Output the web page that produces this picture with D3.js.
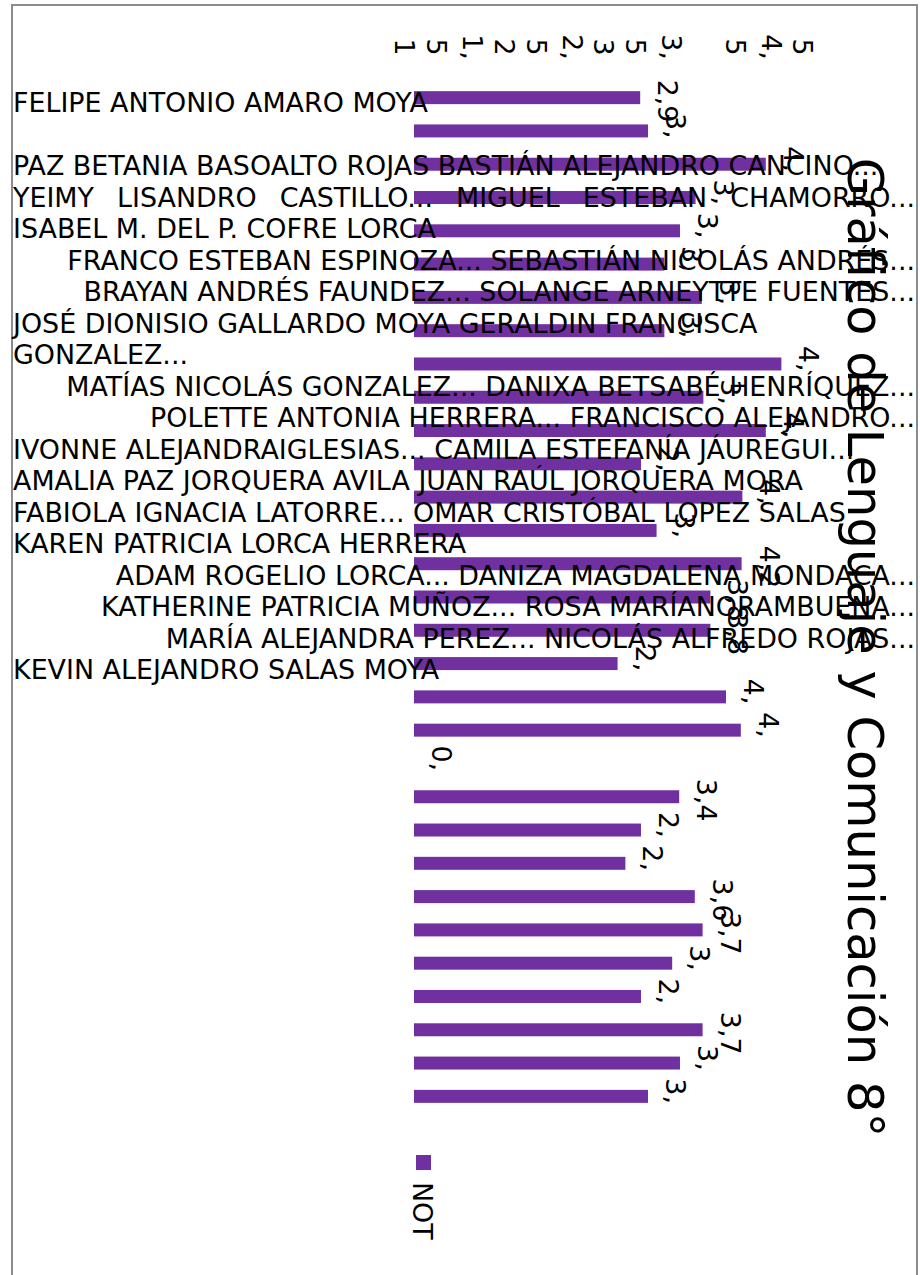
<!DOCTYPE html>
<html>
<head>
<meta charset="utf-8">
<script src="https://cdn.jsdelivr.net/npm/d3@7"></script>
<style>
  html, body { margin: 0; padding: 0; background: #fff; }
  svg { display: block; }
  text { font-family: "DejaVu Sans", sans-serif; fill: #000; }
</style>
</head>
<body>
<svg id="chart" width="920" height="1275"></svg>
<script>
// ---- data -------------------------------------------------------------
const chartTitle = "Gráfico de Lenguaje y Comunicación 8°";
const seriesName = "NOT";

const students = [
  "FELIPE ANTONIO AMARO MOYA",
  "",
  "PAZ BETANIA BASOALTO ROJAS",
  "BASTIÁN ALEJANDRO CANCINO...",
  "YEIMY LISANDRO CASTILLO...",
  "MIGUEL ESTEBAN CHAMORRO...",
  "ISABEL M. DEL P. COFRE LORCA",
  "FRANCO ESTEBAN ESPINOZA...",
  "SEBASTIÁN NICOLÁS ANDRÉS...",
  "BRAYAN ANDRÉS FAUNDEZ...",
  "SOLANGE ARNEYTTE FUENTES...",
  "JOSÉ DIONISIO GALLARDO MOYA",
  "GERALDIN FRANCISCA GONZALEZ...",
  "MATÍAS NICOLÁS GONZALEZ...",
  "DANIXA BETSABÉ HENRÍQUEZ...",
  "POLETTE ANTONIA HERRERA...",
  "FRANCISCO ALEJANDRO...",
  "IVONNE ALEJANDRAIGLESIAS...",
  "CAMILA ESTEFANÍA JÁUREGUI...",
  "AMALIA PAZ JORQUERA AVILA",
  "JUAN RAÚL JORQUERA MORA",
  "FABIOLA IGNACIA LATORRE...",
  "OMAR CRISTÓBAL LOPEZ SALAS",
  "KAREN PATRICIA LORCA HERRERA",
  "ADAM ROGELIO LORCA...",
  "DANIZA MAGDALENA MONDACA...",
  "KATHERINE PATRICIA MUÑOZ...",
  "ROSA MARÍANORAMBUENA...",
  "MARÍA ALEJANDRA PEREZ...",
  "NICOLÁS ALFREDO ROJAS...",
  "KEVIN ALEJANDRO SALAS MOYA"
];

const grades = [
  2.9, 3.0, 4.51, 3.61, 3.41, 3.21, 3.69, 3.21, 4.71, 3.71,
  4.51, 2.91, 4.21, 3.11, 4.2, 3.8, 3.8, 2.61, 4.0, 4.19,
  0, 3.4, 2.91, 2.71, 3.6, 3.7, 3.31, 2.91, 3.7, 3.41, 3.0
];

const axisTicks = [1, 1.5, 2, 2.5, 3, 3.5, 4.5, 5];

// how the category names flow into the text block on the left
const labelRows = [[0],[1],[2,3],[4,5],[6],[7,8],[9,10],[11,12],[13,14],[15,16],
                   [17,18],[19,20],[21,22],[23],[24,25],[26,27],[28,29],[30]];
const rowAlign  = ["start","start","start","justify","start","end","end","start","end","end",
                   "start","start","start","start","end","end","end","start"];

// ---- setup ------------------------------------------------------------
const svg = d3.select("#chart");
const purple = "#7030a0";
const fontSize = 26.9;

const locale = d3.formatLocale({decimal: ",", thousands: ".", grouping: [3], currency: ["$", ""]});
const fmt1 = locale.format(".1f");
const fmtTick = locale.format(".1~f");

// labels that do not fit their box break after the comma; only the first line shows
function valueLabel(v) {
  const t = Math.round(v * 10);
  if (Math.abs(v * 10 - t) < 1e-9 && t % 10 !== 0) return fmt1(v);
  return Math.floor(v) + ",";
}

const x = d3.scaleLinear().domain([0, 5]).range([414, 804]);
const xTicks = d3.scaleLinear().domain([1, 5]).range([405, 803]);
const y = d3.scaleBand()
  .domain(d3.range(students.length))
  .range([81, 1113])
  .paddingInner(0.61)
  .paddingOuter(0.305);

// frame
svg.append("rect")
  .attr("x", 12).attr("y", 5)
  .attr("width", 905).attr("height", 1300)
  .attr("fill", "none")
  .attr("stroke", "#8c8c8c")
  .attr("stroke-width", 2);

// bars
svg.append("g").selectAll("rect")
  .data(grades)
  .join("rect")
  .attr("x", x(0))
  .attr("y", (d, i) => y(i))
  .attr("width", d => x(d) - x(0))
  .attr("height", y.bandwidth())
  .attr("fill", purple);

// value axis labels (rotated, wrapped after the comma)
const tickG = svg.append("g").selectAll("text")
  .data(axisTicks)
  .join("text")
  .attr("transform", d => `translate(${xTicks(d)},47) rotate(90)`)
  .attr("text-anchor", "middle")
  .style("font-size", fontSize + "px");
tickG.each(function(d) {
  const s = fmtTick(d);
  const parts = s.includes(",") ? [s.slice(0, s.indexOf(",") + 1), s.slice(s.indexOf(",") + 1)] : [s];
  const sel = d3.select(this);
  const lh = 36;
  const start = (0.36 * fontSize) - (parts.length - 1) * lh / 2;
  parts.forEach((p, k) => {
    sel.append("tspan").attr("x", 0).attr("y", start + k * lh).text(p);
  });
});

// category names block
const measure = svg.append("text").style("font-size", fontSize + "px").attr("visibility", "hidden");
function textWidth(s) { measure.text(s); return measure.node().getComputedTextLength(); }

const blockLeft = 13, blockRight = 915, firstBaseline = 112, lineStep = 31.5;
const catG = svg.append("g").style("font-size", fontSize + "px");
let line = 0;
labelRows.forEach((row, r) => {
  const words = row.map(i => students[i]).join(" ").split(" ").filter(w => w.length);
  // greedy wrap inside the block
  const lines = [];
  let cur = [];
  words.forEach(w => {
    const trial = cur.concat([w]).join(" ");
    if (cur.length && textWidth(trial) > blockRight - blockLeft) { lines.push(cur); cur = [w]; }
    else cur.push(w);
  });
  lines.push(cur);
  lines.forEach((ws, k) => {
    const yb = firstBaseline + line * lineStep;
    const align = (rowAlign[r] === "justify" && k === lines.length - 1 && lines.length > 1) ? "start" : rowAlign[r];
    if (align === "justify" && ws.length > 1) {
      const widths = ws.map(textWidth);
      const gap = (blockRight - blockLeft - d3.sum(widths)) / (ws.length - 1);
      let cx = blockLeft;
      ws.forEach((w, j) => {
        catG.append("text").attr("x", cx).attr("y", yb).text(w);
        cx += widths[j] + gap;
      });
    } else {
      catG.append("text")
        .attr("x", align === "end" ? blockRight : blockLeft)
        .attr("y", yb)
        .attr("text-anchor", align === "end" ? "end" : "start")
        .text(ws.join(" "));
    }
    line += 1;
  });
});
measure.remove();

// data labels
svg.append("g").selectAll("text")
  .data(grades)
  .join("text")
  .attr("transform", (d, i) => `translate(${x(d) + 18},${y(i) + y.bandwidth() / 2 - 18}) rotate(90)`)
  .attr("text-anchor", "start")
  .style("font-size", fontSize + "px")
  .text(d => valueLabel(d));

// legend
svg.append("rect")
  .attr("x", 416).attr("y", 1155)
  .attr("width", 15).attr("height", 15)
  .attr("fill", purple);
svg.append("text")
  .attr("transform", "translate(413,1182) rotate(90)")
  .style("font-size", fontSize + "px")
  .text(seriesName);

// title
svg.append("text")
  .attr("transform", "translate(848,647.5) rotate(90)")
  .attr("text-anchor", "middle")
  .style("font-size", "49.5px")
  .text(chartTitle);
</script>
</body>
</html>
